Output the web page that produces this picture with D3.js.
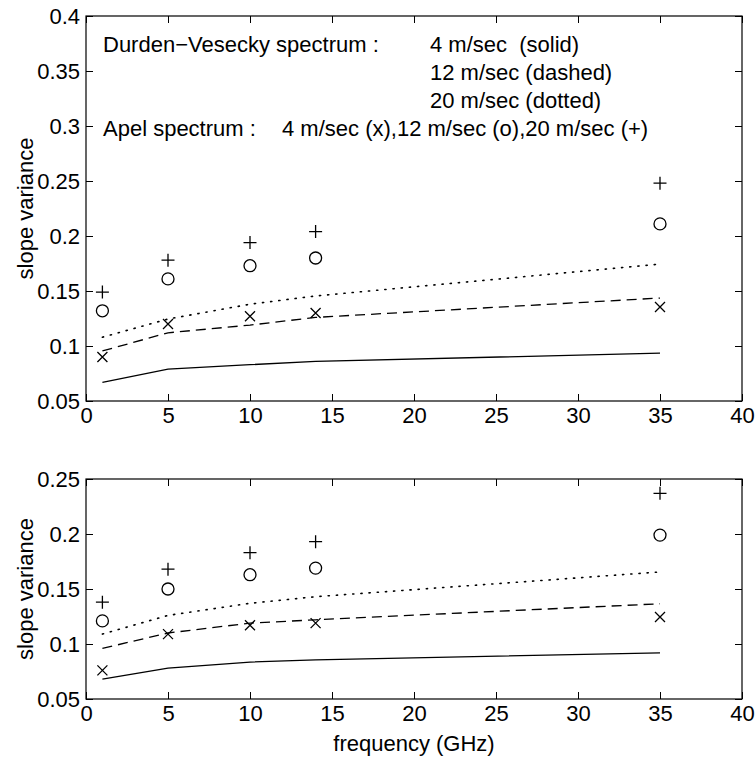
<!DOCTYPE html>
<html lang="en">
<head>
  <meta charset="UTF-8">
  <title>Slope variance vs frequency</title>
  <style>
    body {
      margin: 0;
      background: #fff;
    }
    svg text {
      font-family: "Liberation Sans", Arial, sans-serif;
      font-size: 22px;
      fill: #000;
    }
    .legend {
      white-space: pre;
    }
  </style>
</head>
<body>
  <svg id="chart" width="755" height="761"></svg>

  <script src="https://d3js.org/d3.v7.min.js"></script>
  <script>
    // frequencies where both models were evaluated
    const freqs = [1, 5, 10, 14, 35];
    const xTicks = [0, 5, 10, 15, 20, 25, 30, 35, 40];
    const yTicksTop = [0.05, 0.1, 0.15, 0.2, 0.25, 0.3, 0.35, 0.4];
    const yTicksBottom = [0.05, 0.1, 0.15, 0.2, 0.25];

    // upper panel: Durden-Vesecky curves (4, 12, 20 m/sec)
    const dvTop4 = [0.067, 0.079, 0.083, 0.086, 0.0935];
    const dvTop12 = [0.0955, 0.112, 0.119, 0.126, 0.1436];
    const dvTop20 = [0.108, 0.1245, 0.138, 0.1455, 0.1745];
    // upper panel: Apel spectrum points
    const apelTop4 = [0.090, 0.120, 0.127, 0.130, 0.1355];
    const apelTop12 = [0.132, 0.161, 0.173, 0.180, 0.211];
    const apelTop20 = [0.149, 0.178, 0.194, 0.204, 0.248];

    // lower panel
    const dvBot4 = [0.068, 0.078, 0.0836, 0.0855, 0.092];
    const dvBot12 = [0.096, 0.110, 0.119, 0.122, 0.1366];
    const dvBot20 = [0.109, 0.126, 0.137, 0.143, 0.1655];
    const apelBot4 = [0.076, 0.109, 0.117, 0.119, 0.1245];
    const apelBot12 = [0.121, 0.150, 0.163, 0.169, 0.199];
    const apelBot20 = [0.138, 0.168, 0.183, 0.193, 0.237];

    const svg = d3.select("#chart");
    const left = 86, right = 742;
    const x = d3.scaleLinear().domain([0, 40]).range([left, right]);

    function drawPanel(top, bottom, yTicks, curves, points) {
      const y = d3.scaleLinear()
        .domain([yTicks[0], yTicks[yTicks.length - 1]])
        .range([bottom, top]);
      const g = svg.append("g");

      // inward ticks on all four sides, labels on bottom and left only
      g.append("g")
        .attr("transform", `translate(0,${bottom})`)
        .call(d3.axisBottom(x).tickValues(xTicks).tickSizeInner(-7).tickSizeOuter(0).tickPadding(6).tickFormat(d => d));
      g.append("g")
        .attr("transform", `translate(0,${top})`)
        .call(d3.axisTop(x).tickValues(xTicks).tickSizeInner(-7).tickSizeOuter(0).tickFormat(""));
      g.append("g")
        .attr("transform", `translate(${left},0)`)
        .call(d3.axisLeft(y).tickValues(yTicks).tickSizeInner(-7).tickSizeOuter(0).tickPadding(6).tickFormat(d => d));
      g.append("g")
        .attr("transform", `translate(${right},0)`)
        .call(d3.axisRight(y).tickValues(yTicks).tickSizeInner(-7).tickSizeOuter(0).tickFormat(""));

      g.selectAll(".domain").remove();
      g.selectAll(".tick line").attr("stroke", "#000");
      g.selectAll(".tick text").style("font-size", "22px");

      g.append("rect")
        .attr("x", left).attr("y", top)
        .attr("width", right - left).attr("height", bottom - top)
        .attr("fill", "none").attr("stroke", "#000").attr("stroke-width", 1.2);

      const line = d3.line()
        .x((d, i) => x(freqs[i]))
        .y(d => y(d));

      const dashes = [null, "10,6", "1.2,7"];
      curves.forEach((c, k) => {
        g.append("path")
          .datum(c)
          .attr("d", line)
          .attr("fill", "none")
          .attr("stroke", "#000")
          .attr("stroke-width", k === 2 ? 1.6 : 1.3)
          .attr("stroke-linecap", k === 2 ? "round" : "butt")
          .attr("stroke-dasharray", dashes[k]);
      });

      // x marks (4 m/sec)
      g.selectAll(".mx")
        .data(points[0])
        .join("path")
        .attr("d", (d, i) => {
          const cx = x(freqs[i]), cy = y(d), r = 5;
          return `M${cx - r},${cy - r}L${cx + r},${cy + r}M${cx - r},${cy + r}L${cx + r},${cy - r}`;
        })
        .attr("stroke", "#000").attr("stroke-width", 1.3);

      // circles (12 m/sec)
      g.selectAll(".mo")
        .data(points[1])
        .join("circle")
        .attr("cx", (d, i) => x(freqs[i]))
        .attr("cy", d => y(d))
        .attr("r", 6)
        .attr("fill", "none").attr("stroke", "#000").attr("stroke-width", 1.3);

      // plus marks (20 m/sec)
      g.selectAll(".mp")
        .data(points[2])
        .join("path")
        .attr("d", (d, i) => {
          const cx = x(freqs[i]), cy = y(d), r = 6.5;
          return `M${cx - r},${cy}L${cx + r},${cy}M${cx},${cy - r}L${cx},${cy + r}`;
        })
        .attr("stroke", "#000").attr("stroke-width", 1.3);

      svg.append("text")
        .attr("transform", `translate(33,${(top + bottom) / 2}) rotate(-90)`)
        .attr("text-anchor", "middle")
        .text("slope variance");
    }

    drawPanel(16, 401, yTicksTop, [dvTop4, dvTop12, dvTop20], [apelTop4, apelTop12, apelTop20]);
    drawPanel(479, 699, yTicksBottom, [dvBot4, dvBot12, dvBot20], [apelBot4, apelBot12, apelBot20]);

    // legend text inside the upper panel
    const legend = [
      { x: 103, y: 52, t: "Durden\u2212Vesecky spectrum :" },
      { x: 430, y: 52, t: "4 m/sec  (solid)" },
      { x: 430, y: 80, t: "12 m/sec (dashed)" },
      { x: 430, y: 108, t: "20 m/sec (dotted)" },
      { x: 103, y: 136, t: "Apel spectrum :" },
      { x: 282, y: 136, t: "4 m/sec (x),12 m/sec (o),20 m/sec (+)" }
    ];
    svg.selectAll(".legend")
      .data(legend)
      .join("text")
      .attr("class", "legend")
      .attr("x", d => d.x)
      .attr("y", d => d.y)
      .text(d => d.t);

    svg.append("text")
      .attr("x", (left + right) / 2)
      .attr("y", 751)
      .attr("text-anchor", "middle")
      .text("frequency (GHz)");
  </script>
</body>
</html>
